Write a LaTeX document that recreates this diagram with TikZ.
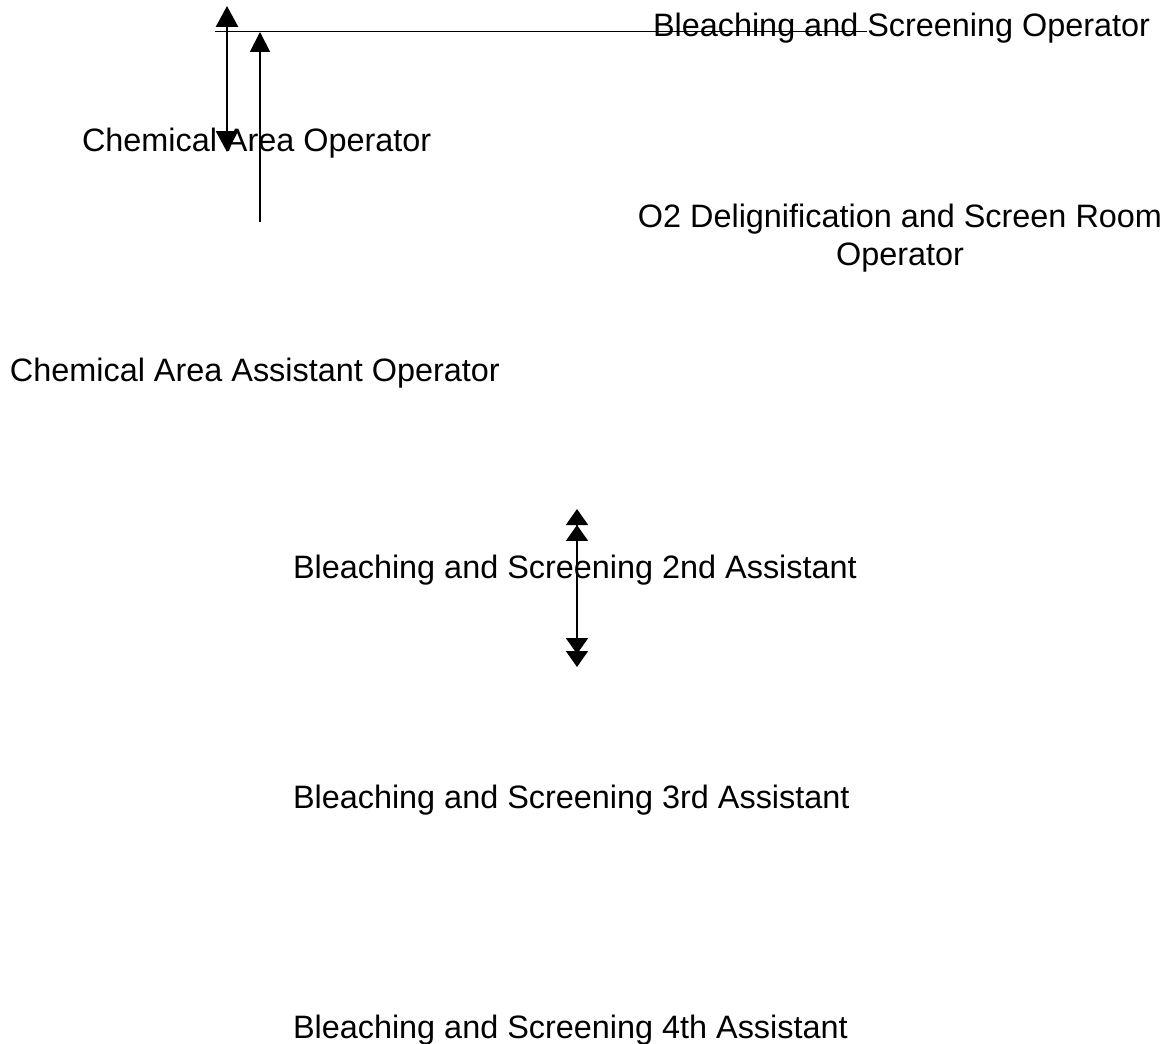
\documentclass[tikz,border=0pt]{standalone}
\usepackage{fontspec}
\setmainfont{Liberation Sans}
\usetikzlibrary{arrows.meta}
\begin{document}
\begin{tikzpicture}[x=0.02cm,y=-0.02cm,
  lbl/.style={inner sep=0pt,outer sep=0pt,font=\fontsize{18.44}{21.8}\selectfont},
  thinline/.style={line width=0.85pt},
  arrowA/.style={line width=1.6pt,{Triangle[length=0.42cm,width=0.44cm]}-{Triangle[length=0.42cm,width=0.44cm]}},
  arrowB/.style={line width=1.1pt,-{Triangle[length=0.40cm,width=0.40cm]}},
  arrowC/.style={line width=1.1pt,{Triangle[length=0.32cm,width=0.44cm,sep=-0.06cm]Triangle[length=0.32cm,width=0.44cm]}-{Triangle[length=0.32cm,width=0.44cm,sep=-0.06cm]Triangle[length=0.32cm,width=0.44cm]}}]
\useasboundingbox (0,0) rectangle (1173,1044);
% labels
\node[lbl,anchor=base west] (nop)  at (653,37) {Bleaching and Screening Operator};
\node[lbl,anchor=base west] (nchem) at (82,152) {Chemical Area Operator};
\node[lbl,anchor=base,align=center] (no2) at (900,266) {O2 Delignification and Screen Room\\Operator};
\node[lbl,anchor=base west] (ncaa) at (10,381) {Chemical Area Assistant Operator};
\node[lbl,anchor=base west] (n2nd) at (293,578) {Bleaching and Screening 2nd Assistant};
\node[lbl,anchor=base west] (n3rd) at (293,808) {Bleaching and Screening 3rd Assistant};
\node[lbl,anchor=base west] (n4th) at (293,1038) {Bleaching and Screening 4th Assistant};
% connector end points
\coordinate (hl) at (215,31.5);
\coordinate (hr) at (867,31.5);
\coordinate (a1t) at (227,6);
\coordinate (a1b) at (227,152);
\coordinate (a2b) at (260,222);
\coordinate (a2t) at (260,32);
\coordinate (a3t) at (577,512);
\coordinate (a3b) at (577,667);
% connectors
\draw[thinline] (hl) -- (hr);
\draw[arrowA] (a1t) -- (a1b);
\draw[arrowB] (a2b) -- (a2t);
\draw[arrowC] (a3t) -- (a3b);
\end{tikzpicture}
\end{document}
